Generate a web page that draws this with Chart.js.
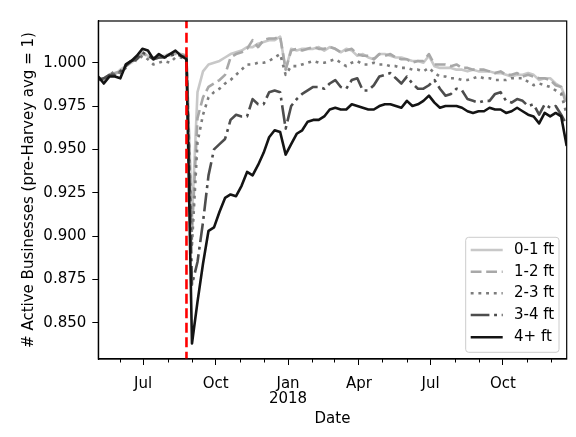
<!DOCTYPE html>
<html>
<head>
<meta charset="utf-8">
<script src="https://cdn.jsdelivr.net/npm/chart.js@4.4.1/dist/chart.umd.min.js"></script>
<style>
  html, body { margin: 0; padding: 0; background: #ffffff; }
  #wrap { width: 576px; height: 437px; }
</style>
</head>
<body>
<div id="wrap"><canvas id="chart" width="576" height="437"></canvas></div>
<script>
// Weekly observation dates (Fridays)
const weekDates = [
  '2017-05-05','2017-05-12','2017-05-19','2017-05-26','2017-06-02','2017-06-09','2017-06-16','2017-06-23','2017-06-30',
  '2017-07-07','2017-07-14','2017-07-21','2017-07-28','2017-08-04','2017-08-11','2017-08-18','2017-08-25',
  '2017-09-01','2017-09-08','2017-09-15','2017-09-22','2017-09-29','2017-10-06','2017-10-13','2017-10-20','2017-10-27',
  '2017-11-03','2017-11-10','2017-11-17','2017-11-24','2017-12-01','2017-12-08','2017-12-15','2017-12-22','2017-12-29',
  '2018-01-05','2018-01-12','2018-01-19','2018-01-26','2018-02-02','2018-02-09','2018-02-16','2018-02-23',
  '2018-03-02','2018-03-09','2018-03-16','2018-03-23','2018-03-30','2018-04-06','2018-04-13','2018-04-20','2018-04-27',
  '2018-05-04','2018-05-11','2018-05-18','2018-05-25','2018-06-01','2018-06-08','2018-06-15','2018-06-22','2018-06-29',
  '2018-07-06','2018-07-13','2018-07-20','2018-07-27','2018-08-03','2018-08-10','2018-08-17','2018-08-24','2018-08-31',
  '2018-09-07','2018-09-14','2018-09-21','2018-09-28','2018-10-05','2018-10-12','2018-10-19','2018-10-26',
  '2018-11-02','2018-11-09','2018-11-16','2018-11-23','2018-11-30','2018-12-07','2018-12-14','2018-12-21'
];

// Active businesses relative to the pre-Harvey average, by flood depth
const depth0to1 = [
  0.991, 0.991, 0.993, 0.993, 0.996, 0.998, 1.000, 1.003, 1.006, 1.004, 1.002, 1.003, 1.004, 1.004, 1.006, 1.005, 1.004,
  0.910, 0.983, 0.995, 0.999, 1.000, 1.001, 1.003, 1.005, 1.006, 1.007, 1.009, 1.009, 1.011, 1.012, 1.013, 1.013, 1.015, 0.996,
  1.008, 1.007, 1.008, 1.008, 1.008, 1.009, 1.007, 1.009, 1.008, 1.006, 1.008, 1.007, 1.004, 1.005, 1.003, 1.002, 1.005,
  1.005, 1.004, 1.003, 1.003, 1.002, 1.001, 1.001, 1.000, 1.004, 0.998, 0.997, 0.997, 0.997, 0.996, 0.996, 0.995, 0.996,
  0.995, 0.995, 0.995, 0.994, 0.994, 0.993, 0.992, 0.993, 0.993, 0.994, 0.993, 0.990, 0.991, 0.991, 0.988, 0.986, 0.978
];
const depth1to2 = [
  0.990, 0.990, 0.992, 0.994, 0.995, 0.999, 1.001, 1.002, 1.005, 1.004, 1.003, 1.003, 1.004, 1.005, 1.005, 1.005, 1.004,
  0.902, 0.968, 0.980, 0.986, 0.988, 0.990, 0.993, 1.003, 1.005, 1.006, 1.008, 1.013, 1.009, 1.013, 1.014, 1.014, 1.015, 0.996,
  1.007, 1.008, 1.007, 1.008, 1.009, 1.008, 1.008, 1.009, 1.008, 1.006, 1.007, 1.008, 1.005, 1.004, 1.004, 1.002, 1.005,
  1.004, 1.005, 1.003, 1.002, 1.002, 1.000, 1.001, 1.001, 1.005, 0.999, 0.999, 0.999, 0.998, 0.999, 0.997, 0.997, 0.996,
  0.996, 0.996, 0.995, 0.994, 0.995, 0.993, 0.993, 0.994, 0.992, 0.993, 0.992, 0.991, 0.991, 0.990, 0.987, 0.986, 0.975
];
const depth2to3 = [
  0.991, 0.990, 0.993, 0.995, 0.994, 0.997, 1.002, 1.001, 1.004, 1.002, 0.999, 1.000, 1.001, 1.000, 1.003, 1.003, 1.002,
  0.895, 0.954, 0.970, 0.980, 0.983, 0.985, 0.988, 0.990, 0.993, 0.996, 0.999, 0.999, 1.000, 1.000, 1.001, 1.003, 1.005, 0.993,
  0.998, 0.998, 0.999, 1.000, 1.001, 1.000, 1.000, 1.001, 1.002, 1.000, 0.998, 1.000, 1.001, 0.999, 0.999, 1.000, 0.999,
  0.999, 0.998, 0.998, 0.997, 0.997, 0.996, 0.996, 0.995, 0.997, 0.994, 0.992, 0.992, 0.991, 0.991, 0.990, 0.990, 0.991,
  0.992, 0.991, 0.991, 0.990, 0.990, 0.990, 0.991, 0.991, 0.991, 0.989, 0.987, 0.988, 0.987, 0.986, 0.984, 0.982, 0.970
];
const depth3to4 = [
  0.990, 0.991, 0.993, 0.993, 0.995, 0.998, 1.001, 1.002, 1.006, 1.004, 1.002, 1.003, 1.003, 1.004, 1.005, 1.004, 1.003,
  0.872, 0.885, 0.908, 0.935, 0.950, 0.953, 0.956, 0.967, 0.970, 0.969, 0.969, 0.979, 0.976, 0.976, 0.983, 0.984, 0.983, 0.962,
  0.975, 0.979, 0.982, 0.984, 0.986, 0.986, 0.985, 0.988, 0.990, 0.986, 0.985, 0.990, 0.991, 0.984, 0.984, 0.987, 0.992,
  0.993, 0.994, 0.991, 0.988, 0.992, 0.988, 0.985, 0.985, 0.987, 0.990, 0.985, 0.981, 0.982, 0.985, 0.984, 0.979, 0.978,
  0.977, 0.978, 0.978, 0.982, 0.983, 0.978, 0.977, 0.979, 0.978, 0.975, 0.976, 0.970, 0.976, 0.974, 0.975, 0.970, 0.964
];
const depth4plus = [
  0.992, 0.988, 0.992, 0.992, 0.991, 0.999, 1.001, 1.004, 1.008, 1.007, 1.002, 1.005, 1.003, 1.005, 1.007, 1.004, 1.002,
  0.838, 0.862, 0.884, 0.903, 0.905, 0.914, 0.922, 0.924, 0.923, 0.929, 0.937, 0.935, 0.941, 0.948, 0.957, 0.961, 0.960, 0.947,
  0.953, 0.959, 0.961, 0.966, 0.967, 0.967, 0.969, 0.973, 0.974, 0.973, 0.973, 0.976, 0.975, 0.974, 0.973, 0.973, 0.975,
  0.976, 0.976, 0.975, 0.974, 0.978, 0.975, 0.976, 0.978, 0.981, 0.977, 0.974, 0.975, 0.975, 0.975, 0.974, 0.972, 0.971,
  0.972, 0.972, 0.974, 0.973, 0.973, 0.971, 0.972, 0.974, 0.972, 0.970, 0.969, 0.965, 0.971, 0.969, 0.971, 0.969, 0.952
];

const seriesLabels = ['0-1 ft', '1-2 ft', '2-3 ft', '3-4 ft', '4+ ft'];

// Hurricane Harvey landfall
const harveyDate = '2017-08-25';

// Axis ticks
const yTickValues = [0.850, 0.875, 0.900, 0.925, 0.950, 0.975, 1.000];
const xMajorTicks = ['2017-07-01', '2017-10-01', '2018-01-01', '2018-04-01', '2018-07-01', '2018-10-01'];
const xMajorLabels = ['Jul', 'Oct', ['Jan', '2018'], 'Apr', 'Jul', 'Oct'];
const xMinorTicks = ['2017-06-01', '2017-08-01', '2017-09-01', '2017-11-01', '2017-12-01', '2018-02-01', '2018-03-01',
  '2018-05-01', '2018-06-01', '2018-08-01', '2018-09-01', '2018-11-01', '2018-12-01'];

const toDay = s => { const p = s.split('-').map(Number); return Date.UTC(p[0], p[1] - 1, p[2]) / 86400000; };

const FONT = 'DejaVu Sans';
const lineStyles = [
  { color: '#c8c8c8', dash: [] },
  { color: '#a8a8a8', dash: [10.8, 4.7] },
  { color: '#7c7c7c', dash: [2.9, 4.8] },
  { color: '#4d4d4d', dash: [18.7, 4.7, 2.9, 4.7] },
  { color: '#141414', dash: [] }
];
const allSeries = [depth0to1, depth1to2, depth2to3, depth3to4, depth4plus];

const datasets = allSeries.map((vals, i) => ({
  label: seriesLabels[i],
  data: weekDates.map((d, k) => ({ x: toDay(d), y: vals[k] })),
  borderColor: lineStyles[i].color,
  borderDash: lineStyles[i].dash,
  borderWidth: 2.6,
  borderJoinStyle: 'round',
  pointRadius: 0,
  tension: 0,
  fill: false,
  order: 5 - i
}));

const yMin = 0.82906, yMax = 1.02406;
datasets.push({
  label: 'Harvey',
  data: [{ x: toDay(harveyDate), y: yMin - 0.01 }, { x: toDay(harveyDate), y: yMax + 0.01 }],
  borderColor: '#ff0000',
  borderDash: [10, 4.5],
  borderWidth: 2.6,
  pointRadius: 0,
  fill: false,
  order: 0,
  isMarker: true
});

// Frame, minor ticks and the legend box
const framePlugin = {
  id: 'frame',
  afterDatasetsDraw(chart) {
    const { ctx, chartArea: a, scales } = chart;
    ctx.save();
    ctx.strokeStyle = '#000';
    ctx.lineWidth = 1.2;
    ctx.strokeRect(a.left, a.top, a.right - a.left, a.bottom - a.top);
    // minor monthly ticks
    ctx.lineWidth = 1;
    xMinorTicks.forEach(d => {
      const px = Math.round(scales.x.getPixelForValue(toDay(d))) + 0.5;
      ctx.beginPath();
      ctx.moveTo(px, a.bottom);
      ctx.lineTo(px, a.bottom + 3.5);
      ctx.stroke();
    });
    // legend
    const bx = a.right - 101, by = a.top + 216.3, bw = 93.3, bh = 115;
    ctx.beginPath();
    ctx.roundRect(bx, by, bw, bh, 3);
    ctx.fillStyle = 'rgba(255,255,255,0.8)';
    ctx.fill();
    ctx.strokeStyle = '#cccccc';
    ctx.lineWidth = 1;
    ctx.stroke();
    const rows = [12.7, 34.4, 56.0, 77.7, 100.0];
    chart.data.datasets.forEach((ds, i) => {
      if (ds.isMarker) return;
      const ry = by + rows[i];
      ctx.beginPath();
      ctx.setLineDash(ds.borderDash || []);
      ctx.strokeStyle = ds.borderColor;
      ctx.lineWidth = ds.borderWidth;
      ctx.moveTo(bx + 5, ry);
      ctx.lineTo(bx + 37, ry);
      ctx.stroke();
      ctx.setLineDash([]);
      ctx.fillStyle = '#000';
      ctx.font = '15px "' + FONT + '"';
      ctx.textBaseline = 'middle';
      ctx.textAlign = 'left';
      ctx.fillText(ds.label, bx + 48.3, ry);
    });
    ctx.restore();
  }
};

new Chart(document.getElementById('chart'), {
  type: 'line',
  data: { datasets },
  options: {
    responsive: false,
    animation: false,
    devicePixelRatio: 1,
    layout: { padding: { left: 0, right: 9.3, top: 21, bottom: 0 } },
    plugins: { legend: { display: false }, tooltip: { enabled: false } },
    scales: {
      x: {
        type: 'linear',
        min: toDay(weekDates[0]),
        max: toDay(weekDates[weekDates.length - 1]),
        afterBuildTicks: s => { s.ticks = xMajorTicks.map(d => ({ value: toDay(d) })); },
        afterFit: s => { s.height = 78; },
        ticks: {
          autoSkip: false,
          maxRotation: 0,
          padding: 12,
          color: '#000',
          font: { family: FONT, size: 15, lineHeight: 1.0 },
          callback: (v) => { const i = xMajorTicks.findIndex(d => toDay(d) === v); return i >= 0 ? xMajorLabels[i] : ''; }
        },
        grid: { drawOnChartArea: false, drawTicks: true, tickLength: 6, tickColor: '#000', tickWidth: 1 },
        border: { display: true, color: '#000', width: 1.2 },
        title: { display: true, text: 'Date', color: '#000', font: { family: FONT, size: 15 }, padding: { top: 0, bottom: 9 } }
      },
      y: {
        type: 'linear',
        min: yMin,
        max: yMax,
        afterBuildTicks: s => { s.ticks = yTickValues.map(v => ({ value: v })); },
        afterFit: s => { s.width = 98.3; },
        ticks: {
          autoSkip: false,
          padding: 6,
          color: '#000',
          font: { family: FONT, size: 15 },
          callback: v => Number(v).toFixed(3)
        },
        grid: { drawOnChartArea: false, drawTicks: true, tickLength: 6, tickColor: '#000', tickWidth: 1 },
        border: { display: true, color: '#000', width: 1.2 },
        title: { display: true, text: '# Active Businesses (pre-Harvey avg = 1)', color: '#000', font: { family: FONT, size: 15 }, padding: { top: 20, bottom: 0 } }
      }
    }
  },
  plugins: [framePlugin]
});
</script>
</body>
</html>
